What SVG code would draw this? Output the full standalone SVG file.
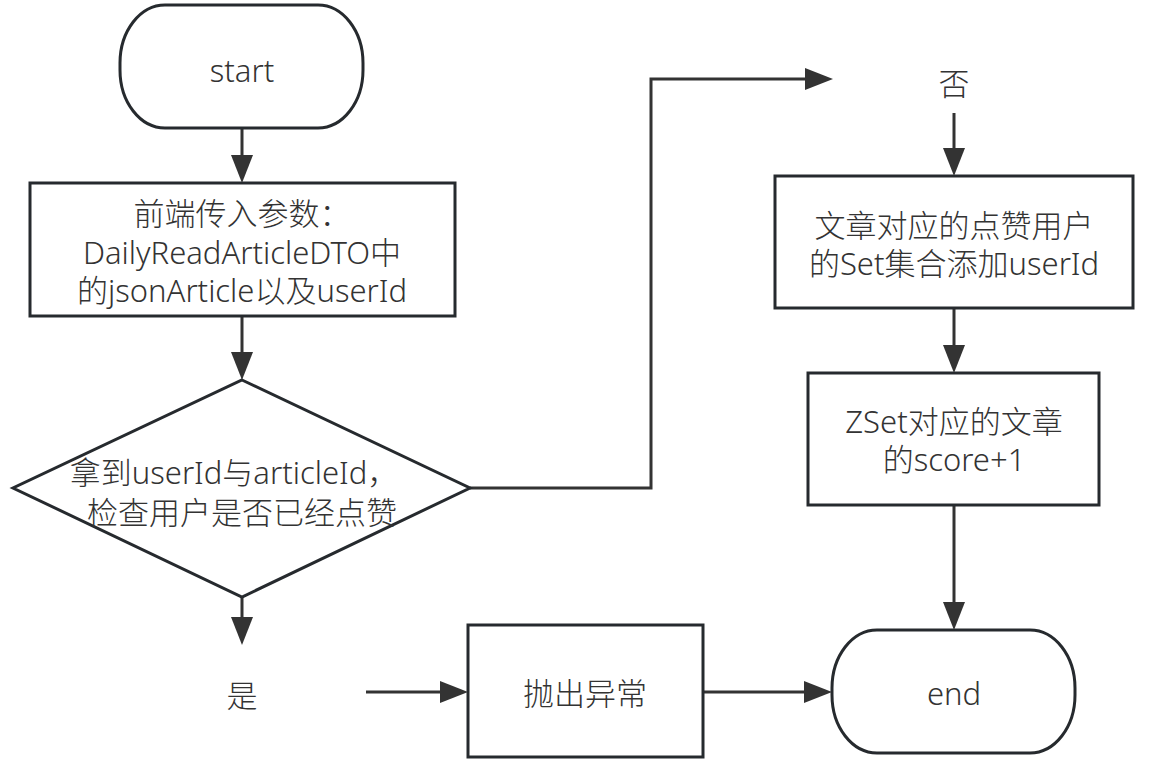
<svg xmlns="http://www.w3.org/2000/svg" width="1159" height="769" viewBox="0 0 1159 769">
<style>
.shape{fill:#fff;stroke:#262a2e;stroke-width:3}
.conn{fill:none;stroke:#333;stroke-width:3}
text{font-family:"Noto Sans","Noto Sans CJK SC",sans-serif;font-size:31px;font-weight:300;fill:#333;text-anchor:middle;dominant-baseline:central}
</style>
<defs>
<marker id="arr" markerUnits="userSpaceOnUse" markerWidth="30" markerHeight="24" refX="20" refY="11" orient="auto">
<path d="M0,0 L28,11 L0,22 Z" fill="#333"/>
</marker>
</defs>
<rect width="1159" height="769" fill="#fff"/>
<g id="connectors">
<path class="conn" d="M242,128 V175" marker-end="url(#arr)"/>
<path class="conn" d="M242,316 V372" marker-end="url(#arr)"/>
<path class="conn" d="M242,597 V637" marker-end="url(#arr)"/>
<path class="conn" d="M366,692 H460" marker-end="url(#arr)"/>
<path class="conn" d="M703,692 H824" marker-end="url(#arr)"/>
<path class="conn" d="M470,488 H651 V79 H825" marker-end="url(#arr)"/>
<path class="conn" d="M954,113 V168" marker-end="url(#arr)"/>
<path class="conn" d="M954,308 V365" marker-end="url(#arr)"/>
<path class="conn" d="M954,505 V622" marker-end="url(#arr)"/>
</g>
<g id="start">
<rect class="shape" x="120" y="5" width="243" height="123" rx="45" ry="58"/>
<text x="242" y="70">start</text>
</g>
<g id="input">
<rect class="shape" x="30" y="183" width="425" height="133"/>
<text x="242" y="213">前端传入参数：</text>
<text x="242" y="252">DailyReadArticleDTO中</text>
<text x="242" y="290">的jsonArticle以及userId</text>
</g>
<g id="check">
<polygon class="shape" points="242,380 470,488 242,597 13,488"/>
<text x="234" y="472">拿到userId与articleId，</text>
<text x="242" y="512">检查用户是否已经点赞</text>
</g>
<g id="yes-label">
<text x="242" y="695">是</text>
</g>
<g id="throw">
<rect class="shape" x="468" y="625" width="235" height="132"/>
<text x="585" y="693">抛出异常</text>
</g>
<g id="end">
<rect class="shape" x="832" y="630" width="243" height="123" rx="45" ry="58"/>
<text x="954" y="693">end</text>
</g>
<g id="no-label">
<text x="954" y="83">否</text>
</g>
<g id="add-set">
<rect class="shape" x="775" y="176" width="358" height="132"/>
<text x="954" y="225">文章对应的点赞用户</text>
<text x="954" y="263">的Set集合添加userId</text>
</g>
<g id="zset">
<rect class="shape" x="808" y="373" width="291" height="132"/>
<text x="954" y="421">ZSet对应的文章</text>
<text x="954" y="459">的score+1</text>
</g>
</svg>
